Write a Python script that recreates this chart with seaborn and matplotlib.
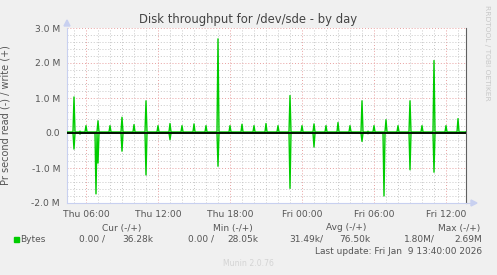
import numpy as np
import pandas as pd
import matplotlib
matplotlib.use("Agg")
import matplotlib.pyplot as plt
import matplotlib.dates as mdates
from matplotlib.ticker import MultipleLocator, FixedLocator
import seaborn as sns

# ---- data (values in M bytes/s) ----
start_time = "2026-01-08 04:25"
end_time = "2026-01-09 13:40"
write_baseline = 0.029
read_baseline = 0.0

write_spike_times = [
    "2026-01-08 05:00", "2026-01-08 05:30", "2026-01-08 06:00", "2026-01-08 07:00",
    "2026-01-08 08:00", "2026-01-08 09:00", "2026-01-08 10:00", "2026-01-08 11:00",
    "2026-01-08 12:00", "2026-01-08 13:00", "2026-01-08 14:00", "2026-01-08 15:00",
    "2026-01-08 16:00", "2026-01-08 17:00", "2026-01-08 18:00", "2026-01-08 19:00",
    "2026-01-08 20:00", "2026-01-08 21:00", "2026-01-08 22:00", "2026-01-08 23:00",
    "2026-01-09 00:00", "2026-01-09 01:00", "2026-01-09 02:00", "2026-01-09 03:00",
    "2026-01-09 04:00", "2026-01-09 05:00", "2026-01-09 05:30", "2026-01-09 06:00",
    "2026-01-09 07:00", "2026-01-09 08:00", "2026-01-09 09:00", "2026-01-09 10:00",
    "2026-01-09 11:00", "2026-01-09 12:00", "2026-01-09 13:00",
]
write_spike_values = [
    1.03, 0.05, 0.21, 0.35,
    0.21, 0.45, 0.24, 0.92,
    0.21, 0.27, 0.21, 0.26,
    0.21, 2.69, 0.21, 0.25,
    0.21, 0.27, 0.21, 1.07,
    0.21, 0.26, 0.21, 0.30,
    0.21, 0.92, 0.05, 0.21,
    0.38, 0.21, 0.92, 0.21,
    2.07, 0.21, 0.41,
]
read_spike_times = [
    "2026-01-08 05:00", "2026-01-08 05:30", "2026-01-08 06:50", "2026-01-08 07:00",
    "2026-01-08 09:00", "2026-01-08 11:00", "2026-01-08 13:00", "2026-01-08 17:00",
    "2026-01-08 23:00", "2026-01-09 01:00", "2026-01-09 05:00", "2026-01-09 05:30",
    "2026-01-09 06:50", "2026-01-09 09:00", "2026-01-09 11:00",
]
read_spike_values = [
    0.46, 0.03, 1.74, 0.86,
    0.52, 1.20, 0.19, 0.95,
    1.58, 0.40, 0.24, 0.02,
    1.80, 1.05, 1.12,
]
last_write_value = 0.03628

y_ticks = [-2, -1, 0, 1, 2, 3]
y_tick_labels = ["-2.0 M", "-1.0 M", "0.0", "1.0 M", "2.0 M", "3.0 M"]

# ---- build series on the 5-minute rrd grid ----
times = pd.date_range(start_time, end_time, freq="5min")
write = pd.Series(write_baseline, index=times)
read = pd.Series(read_baseline, index=times)
write.loc[pd.to_datetime(write_spike_times)] = write_spike_values
read.loc[pd.to_datetime(read_spike_times)] = read_spike_values
write.iloc[-1] = last_write_value
df = pd.DataFrame({"time": times, "write": write.values, "read_neg": -read.values})

# ---- figure ----
sns.set_style("white")
plt.rcParams["font.family"] = ["DejaVu Sans"]
W, H = 497, 275
fig = plt.figure(figsize=(W / 100, H / 100), dpi=100, facecolor="#f0f0f0")

L, R, T, B = 67, 466, 28, 203
ax = fig.add_axes([L / W, 1 - B / H, (R - L) / W, (B - T) / H])
ax.set_facecolor("white")

green = "#00cc00"
sns.lineplot(data=df, x="time", y="read_neg", color=green, lw=1.0, ax=ax, zorder=3)
sns.lineplot(data=df, x="time", y="write", color=green, lw=1.0, ax=ax, zorder=3)
ax.axhline(0, color="black", lw=1.3, zorder=4)

ax.set_xlim(times[0], times[-1])
ax.set_ylim(-2, 3)

# grid
ax.yaxis.set_major_locator(FixedLocator(y_ticks))
ax.set_yticklabels(y_tick_labels)
ax.yaxis.set_minor_locator(MultipleLocator(0.2))
ax.xaxis.set_major_locator(mdates.HourLocator(byhour=[0, 6, 12, 18]))
ax.xaxis.set_minor_locator(mdates.HourLocator())
ax.xaxis.set_major_formatter(mdates.DateFormatter("%a %H:%M"))

ax.grid(which="minor", color="#c8c8c8", lw=0.7, ls=(0, (1, 2)), zorder=1)
ax.grid(which="major", color="#e8a0a0", lw=0.7, ls=(0, (1, 2)), zorder=2)

tick_color = "#555555"
ax.tick_params(axis="both", which="major", labelsize=6.6, colors=tick_color, length=2,
               pad=3)
ax.tick_params(axis="x", which="major", color="#e8a0a0")
ax.tick_params(axis="y", which="major", color="#e8a0a0")
ax.tick_params(axis="both", which="minor", length=2, color="#c8c8c8")
for lbl in ax.get_xticklabels() + ax.get_yticklabels():
    lbl.set_color(tick_color)

ax.set_xlabel("")
ax.set_ylabel("Pr second read (-) / write (+)", fontsize=7, color=tick_color)
ax.yaxis.set_label_coords((10.5 - L) / (R - L), 0.5)

for s in ["top"]:
    ax.spines[s].set_visible(False)
ax.spines["left"].set_color("#c8d0f0")
ax.spines["bottom"].set_color("#c8d0f0")
ax.spines["right"].set_color("#606060")
for s in ["left", "bottom", "right"]:
    ax.spines[s].set_linewidth(0.8)

# axis arrows
fig.patches.append(matplotlib.patches.Polygon(
    [[(L - 3) / W, 1 - (T - 2) / H], [(L + 3) / W, 1 - (T - 2) / H], [L / W, 1 - (T - 8) / H]],
    closed=True, transform=fig.transFigure, color="#c8d0f0", figure=fig))
ax.plot([1.0, 1.015], [0, 0], transform=ax.transAxes, color="#c8d0f0", lw=0.8, clip_on=False)
fig.patches.append(matplotlib.patches.Polygon(
    [[(R + 5) / W, 1 - (B - 3) / H], [(R + 5) / W, 1 - (B + 3) / H], [(R + 11) / W, 1 - B / H]],
    closed=True, transform=fig.transFigure, color="#c8d0f0", figure=fig))

def ftext(x, y, s, **kw):
    fig.text(x / W, 1 - y / H, s, **kw)

ftext(248, 20, "Disk throughput for /dev/sde - by day", fontsize=8.4, color="#444444",
      ha="center", va="center")
ftext(487, 5, "RRDTOOL / TOBI OETIKER", fontsize=5.4, color="#c8c8c8", rotation=270,
      ha="center", va="top")

fs = 6.5
lc = "#555555"
ftext(122, 228, "Cur (-/+)", fontsize=fs, color=lc, ha="center", va="center")
ftext(233, 228, "Min (-/+)", fontsize=fs, color=lc, ha="center", va="center")
ftext(346, 228, "Avg (-/+)", fontsize=fs, color=lc, ha="center", va="center")
ftext(480, 228, "Max (-/+)", fontsize=fs, color=lc, ha="right", va="center")

fig.patches.append(matplotlib.patches.Rectangle(
    (14 / W, 1 - 242 / H), 5 / W, 5 / H, transform=fig.transFigure, color=green, figure=fig))
ftext(20, 239.5, "Bytes", fontsize=fs, color=lc, ha="left", va="center")
ftext(105, 239.5, "0.00 /", fontsize=fs, color=lc, ha="right", va="center")
ftext(153, 239.5, "36.28k", fontsize=fs, color=lc, ha="right", va="center")
ftext(214, 239.5, "0.00 /", fontsize=fs, color=lc, ha="right", va="center")
ftext(258, 239.5, "28.05k", fontsize=fs, color=lc, ha="right", va="center")
ftext(323, 239.5, "31.49k/", fontsize=fs, color=lc, ha="right", va="center")
ftext(370, 239.5, "76.50k", fontsize=fs, color=lc, ha="right", va="center")
ftext(435, 239.5, "1.80M/", fontsize=fs, color=lc, ha="right", va="center")
ftext(482, 239.5, "2.69M", fontsize=fs, color=lc, ha="right", va="center")
ftext(482, 251, "Last update: Fri Jan  9 13:40:00 2026", fontsize=fs, color=lc,
      ha="right", va="center")
ftext(248, 263, "Munin 2.0.76", fontsize=5.6, color="#d4d4d4", ha="center", va="center")

fig.savefig("out.png", dpi=100, facecolor=fig.get_facecolor())
